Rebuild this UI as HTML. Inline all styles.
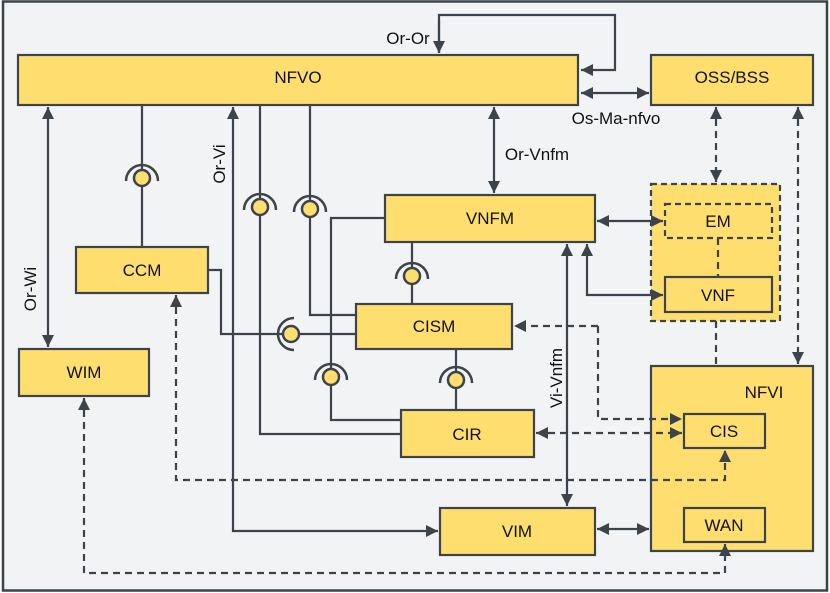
<!DOCTYPE html>
<html><head><meta charset="utf-8"><style>
html,body{margin:0;padding:0;background:#fff}
svg{display:block}
text{font-family:"Liberation Sans",Arial,sans-serif;fill:#111}
</style></head><body>
<svg width="830" height="593" viewBox="0 0 830 593" xmlns="http://www.w3.org/2000/svg">
<defs>
<marker id="a" viewBox="0 0 10 10" refX="10" refY="5" markerWidth="12" markerHeight="12" orient="auto-start-reverse" markerUnits="userSpaceOnUse">
<path d="M0,0 L10,5 L0,10 z" fill="#3d434b"/></marker>
</defs>
<rect x="3" y="1.5" width="824" height="589" fill="#f2f3f5" stroke="#3d434b" stroke-width="2.5"/>
<!-- boxes -->
<g stroke="#3d434b" stroke-width="2.2" fill="#ffde70">
<rect x="18" y="55" width="560" height="50"/>
<rect x="651" y="55" width="162" height="50"/>
<rect x="385" y="195" width="210" height="47"/>
<rect x="651" y="184" width="129" height="137" stroke-dasharray="6,4"/>
<rect x="665" y="204" width="107" height="34" stroke-dasharray="6,4"/>
<rect x="665" y="277" width="107" height="35"/>
<rect x="651" y="366" width="162" height="185"/>
<rect x="684" y="414" width="81" height="34"/>
<rect x="684" y="508" width="81" height="34"/>
<rect x="76" y="247" width="132" height="46"/>
<rect x="19" y="349" width="130" height="47"/>
<rect x="356" y="304" width="156" height="45"/>
<rect x="401" y="410" width="133" height="47"/>
<rect x="440" y="508" width="155" height="47"/>
</g>
<g fill="none" stroke="#3d434b" stroke-width="2.2">
<path d="M439,53 L439,15 L615,15 L615,70 L581,70" marker-end="url(#a)"/>
<path d="M439,20 L439,53" marker-end="url(#a)"/>
<path d="M581,93 L649,93" marker-start="url(#a)" marker-end="url(#a)"/>
<path d="M494,107 L494,193" marker-start="url(#a)" marker-end="url(#a)"/>
<path d="M48,107 L48,347" marker-start="url(#a)" marker-end="url(#a)"/>
<path d="M233,107 L233,531 L438,531" marker-start="url(#a)" marker-end="url(#a)"/>
<path d="M142,105 L142,247"/>
<path d="M260,105 L260,434 L401,434"/>
<path d="M310,105 L310,315 L356,315"/>
<path d="M385,218 L331,218 L331,420 L401,420"/>
<path d="M208,270 L221,270 L221,334 L356,334"/>
<path d="M412,242 L412,304"/>
<path d="M456,349 L456,410"/>
<path d="M567,244 L567,506" marker-start="url(#a)" marker-end="url(#a)"/>
<path d="M587,244 L587,295 L663,295" marker-start="url(#a)" marker-end="url(#a)"/>
<path d="M597,221 L663,221" marker-start="url(#a)" marker-end="url(#a)"/>
<path d="M597,529 L649,529" marker-start="url(#a)" marker-end="url(#a)"/>
</g>
<g fill="none" stroke="#3d434b" stroke-width="2.2" stroke-dasharray="7,5">
<path d="M716,107 L716,182" marker-start="url(#a)" marker-end="url(#a)"/>
<path d="M798,107 L798,364" marker-start="url(#a)" marker-end="url(#a)"/>
<path d="M598,326 L514,326" marker-end="url(#a)"/>
<path d="M598,326 L598,419 L682,419" marker-end="url(#a)"/>
<path d="M536,433 L682,433" marker-start="url(#a)" marker-end="url(#a)"/>
<path d="M176,295 L176,480 L725,480 L725,450" marker-start="url(#a)" marker-end="url(#a)"/>
<path d="M84,398 L84,573 L725,573 L725,544" marker-start="url(#a)" marker-end="url(#a)"/>
<path d="M716,321 L716,366"/>
<path d="M718,238 L718,277"/>
</g>
<!-- lollipops -->
<g stroke="#3d434b" stroke-width="2.5">
<g fill="none">
<path d="M126,181 A16,16 0 0 1 158,181"/>
<path d="M244,210 A16,16 0 0 1 276,210"/>
<path d="M294,212 A16,16 0 0 1 326,212"/>
<path d="M396,279 A16,16 0 0 1 428,279"/>
<path d="M315,380 A16,16 0 0 1 347,380"/>
<path d="M440,383 A16,16 0 0 1 472,383"/>
<path d="M294,318 A16,16 0 0 0 294,350"/>
</g>
<g fill="#ffde70">
<circle cx="142" cy="178" r="8"/>
<circle cx="260" cy="207" r="8"/>
<circle cx="310" cy="209" r="8"/>
<circle cx="412" cy="276" r="8"/>
<circle cx="331" cy="377" r="8"/>
<circle cx="456" cy="380" r="8"/>
<circle cx="291" cy="334" r="8"/>
</g>
</g>
<g font-size="17" text-anchor="middle">
<text x="298" y="83">NFVO</text>
<text x="732" y="83">OSS/BSS</text>
<text x="490" y="224">VNFM</text>
<text x="718" y="227">EM</text>
<text x="718" y="301">VNF</text>
<text x="724" y="437">CIS</text>
<text x="724" y="531">WAN</text>
<text x="142" y="276">CCM</text>
<text x="84" y="378">WIM</text>
<text x="434" y="332">CISM</text>
<text x="467" y="440">CIR</text>
<text x="517" y="537">VIM</text>
<text x="764" y="398">NFVI</text>
<text x="408" y="44">Or-Or</text>
<text x="616" y="124">Os-Ma-nfvo</text>
<text x="537" y="160">Or-Vnfm</text>
<text transform="translate(36,289) rotate(-90)">Or-Wi</text>
<text transform="translate(225,164) rotate(-90)">Or-Vi</text>
<text transform="translate(562,378) rotate(-90)">Vi-Vnfm</text>
</g>
</svg>
</body></html>
